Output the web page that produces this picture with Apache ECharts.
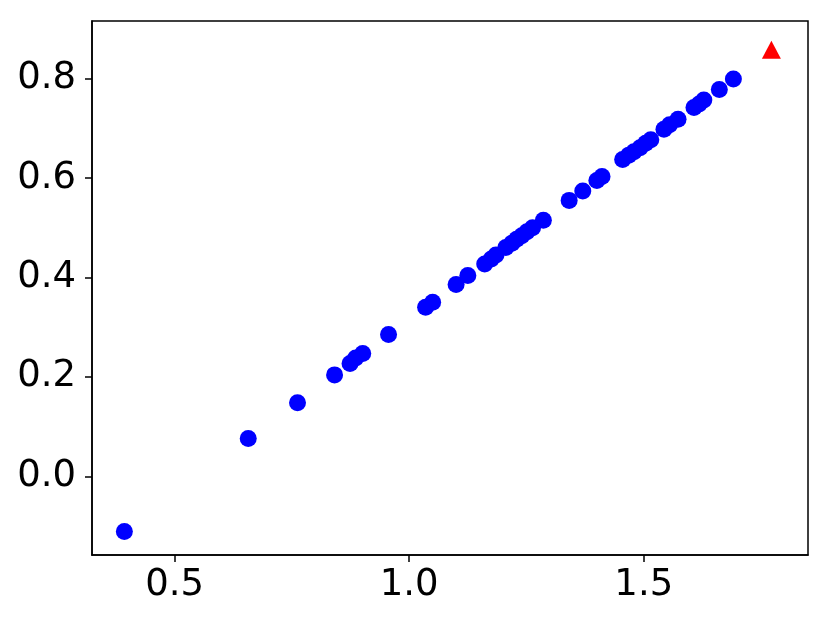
<!DOCTYPE html>
<html>
<head>
<meta charset="utf-8">
<script src="https://cdn.jsdelivr.net/npm/echarts@6/dist/echarts.min.js"></script>
<style>
html,body{margin:0;padding:0;background:#fff;}
#chart{width:830px;height:623px;}
</style>
</head>
<body>
<div id="chart"></div>
<script>
const xValues = [0.393, 0.657, 0.762, 0.841, 0.874, 0.886, 0.901, 0.956, 1.035, 1.050,
  1.100, 1.125, 1.161, 1.175, 1.185, 1.206, 1.219, 1.229, 1.240, 1.251,
  1.263, 1.286, 1.341, 1.370, 1.400, 1.411, 1.455, 1.468, 1.479, 1.492,
  1.504, 1.515, 1.543, 1.555, 1.573, 1.607, 1.618, 1.628, 1.661, 1.691];
const yValues = [-0.111, 0.076, 0.148, 0.204, 0.227, 0.238, 0.247, 0.285, 0.340, 0.350,
  0.386, 0.404, 0.427, 0.437, 0.445, 0.460, 0.469, 0.477, 0.484, 0.492,
  0.500, 0.515, 0.555, 0.574, 0.595, 0.603, 0.637, 0.646, 0.653, 0.661,
  0.670, 0.677, 0.698, 0.707, 0.718, 0.742, 0.749, 0.757, 0.778, 0.799];
const highlightX = [1.772];
const highlightY = [0.858];
const xTicks = [0.5, 1.0, 1.5];
const yTicks = [0.0, 0.2, 0.4, 0.6, 0.8];

const chart = echarts.init(document.getElementById('chart'), null, {renderer: 'canvas'});
const font = 'DejaVu Sans';
chart.setOption({
  animation: false,
  backgroundColor: '#ffffff',
  grid: {left: 92, right: 22, top: 21, bottom: 68, show: true, borderColor: '#000', borderWidth: 1.5, backgroundColor: 'transparent'},
  xAxis: {
    type: 'value', min: 0.324, max: 1.850,
    splitLine: {show: false},
    axisLine: {show: true, onZero: false, lineStyle: {color: '#000', width: 1.5}},
    axisTick: {show: true, inside: false, length: 7, lineStyle: {color: '#000', width: 1.5}, customValues: xTicks},
    axisLabel: {customValues: xTicks, formatter: v => v.toFixed(1), color: '#000', fontFamily: font, fontSize: 37, margin: 12}
  },
  yAxis: {
    type: 'value', min: -0.1583, max: 0.9158,
    splitLine: {show: false},
    axisLine: {show: true, onZero: false, lineStyle: {color: '#000', width: 1.5}},
    axisTick: {show: true, inside: false, length: 7, lineStyle: {color: '#000', width: 1.5}, customValues: yTicks},
    axisLabel: {customValues: yTicks, formatter: v => v.toFixed(1), color: '#000', fontFamily: font, fontSize: 37, margin: 16}
  },
  series: [
    {type: 'scatter', symbol: 'circle', symbolSize: 17, itemStyle: {color: '#0000ff', opacity: 1},
     data: xValues.map((x, i) => [x, yValues[i]])},
    {type: 'scatter', symbol: 'triangle', symbolSize: [19, 18], itemStyle: {color: '#ff0000', opacity: 1},
     data: highlightX.map((x, i) => [x, highlightY[i]])}
  ]
});
</script>
</body>
</html>
